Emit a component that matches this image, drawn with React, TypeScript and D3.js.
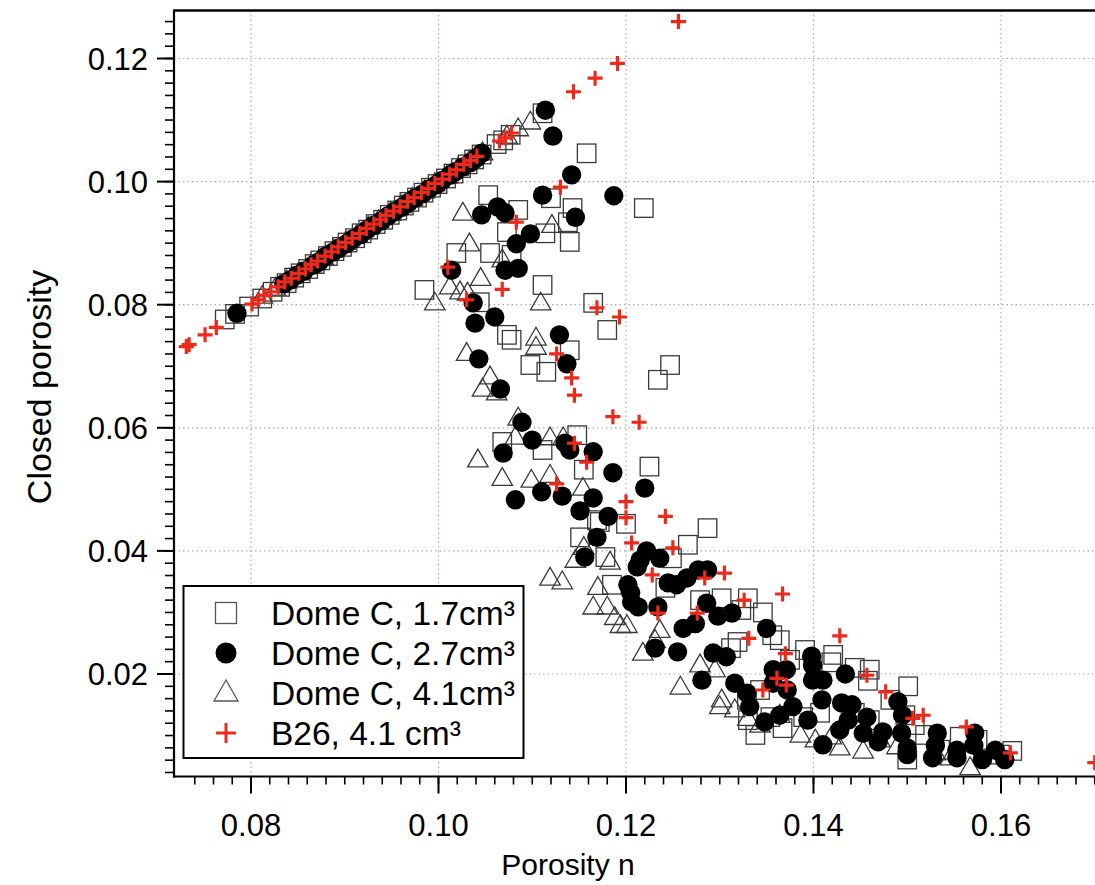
import React from "react";
import * as d3 from "d3";

// ---------- DATA (x = porosity n, y = closed porosity) ----------
const squaresLine: [number, number][] = [
  [0.0772, 0.0776], [0.0783, 0.0785], [0.0798, 0.0797], [0.0812, 0.081], [0.0823, 0.0821], [0.0831, 0.0829],
  [0.0838, 0.0835], [0.0846, 0.0844], [0.0853, 0.0851], [0.0861, 0.0858], [0.0868, 0.0866], [0.0874, 0.0872],
  [0.0882, 0.0879], [0.0889, 0.0887], [0.0897, 0.0894], [0.0903, 0.0901], [0.0911, 0.0908], [0.0918, 0.0916],
  [0.0925, 0.0922], [0.0933, 0.0931], [0.0941, 0.0938], [0.0948, 0.0946], [0.0956, 0.0953], [0.0963, 0.0961],
  [0.0969, 0.0967], [0.0977, 0.0974], [0.0984, 0.0982], [0.0992, 0.099], [0.0999, 0.0996], [0.1008, 0.1005],
  [0.1016, 0.1013], [0.1024, 0.1022], [0.1031, 0.1028], [0.1038, 0.1036], [0.1046, 0.1044], [0.1062, 0.1061],
  [0.1069, 0.1067], [0.1077, 0.1076], [0.1111, 0.1111],
];
const squaresScatter: [number, number][] = [
  [0.1158, 0.1046], [0.112, 0.0973], [0.1219, 0.0957], [0.1053, 0.0978], [0.1085, 0.0954], [0.1143, 0.0957],
  [0.1138, 0.0934], [0.1114, 0.0916], [0.114, 0.0902], [0.1073, 0.0918], [0.1019, 0.0884], [0.1055, 0.0884],
  [0.1078, 0.0881], [0.1111, 0.0832], [0.0985, 0.0824], [0.1044, 0.0804], [0.1165, 0.0803], [0.1073, 0.0751],
  [0.1078, 0.0743], [0.114, 0.0726], [0.1098, 0.0702], [0.1115, 0.0691], [0.118, 0.0759], [0.1247, 0.0702],
  [0.1234, 0.0678], [0.1068, 0.0577], [0.1111, 0.0564], [0.1148, 0.0588], [0.1155, 0.0532], [0.1225, 0.0537],
  [0.1169, 0.045], [0.12, 0.0444], [0.1287, 0.0437], [0.1151, 0.0422], [0.1172, 0.0447], [0.1266, 0.041],
  [0.1178, 0.039], [0.1249, 0.0388], [0.1185, 0.0345], [0.1242, 0.034], [0.1302, 0.0323], [0.1279, 0.032],
  [0.1323, 0.0304], [0.133, 0.0323], [0.1346, 0.03], [0.1319, 0.0252], [0.1356, 0.0263], [0.1364, 0.0255],
  [0.1391, 0.0239], [0.1375, 0.0223], [0.1421, 0.0231], [0.1444, 0.021], [0.146, 0.0207], [0.1501, 0.018],
  [0.1482, 0.0158], [0.1444, 0.0137], [0.146, 0.0125], [0.1498, 0.0133], [0.1508, 0.0117], [0.1519, 0.0101],
  [0.1556, 0.0098], [0.1575, 0.0093], [0.1612, 0.0075], [0.1599, 0.0069], [0.15, 0.0061], [0.1535, 0.0077],
  [0.1343, 0.0174], [0.1329, 0.0158], [0.1354, 0.013], [0.1389, 0.013], [0.1407, 0.0137], [0.133, 0.0125],
  [0.1312, 0.0242], [0.1419, 0.0219], [0.1458, 0.0189], [0.1338, 0.0101], [0.1367, 0.0112],
];
const circlesLine: [number, number][] = [
  [0.0785, 0.0786], [0.0835, 0.0834], [0.0842, 0.084], [0.0849, 0.0848], [0.0857, 0.0855], [0.0866, 0.0864],
  [0.0873, 0.087], [0.0879, 0.0878], [0.0887, 0.0885], [0.0894, 0.0892], [0.0902, 0.0899], [0.0909, 0.0907],
  [0.0917, 0.0914], [0.0924, 0.0922], [0.0931, 0.0929], [0.0939, 0.0936], [0.0946, 0.0944], [0.0953, 0.0951],
  [0.0961, 0.0958], [0.0968, 0.0966], [0.0975, 0.0973], [0.0983, 0.098], [0.099, 0.0988], [0.0998, 0.0995],
  [0.1004, 0.1002], [0.1012, 0.101], [0.1018, 0.1016], [0.1026, 0.1024], [0.1034, 0.1031], [0.1041, 0.1039],
  [0.1046, 0.1046], [0.1114, 0.1116],
];
const circlesScatter: [number, number][] = [
  [0.1122, 0.1074], [0.1142, 0.1011], [0.1111, 0.0978], [0.1187, 0.0977], [0.1046, 0.0946], [0.1063, 0.0959],
  [0.1071, 0.0949], [0.1146, 0.0942], [0.1098, 0.0915], [0.1083, 0.0899], [0.1071, 0.0856], [0.1085, 0.0859],
  [0.1014, 0.0856], [0.1037, 0.0803], [0.106, 0.078], [0.1039, 0.077], [0.1129, 0.0751], [0.1137, 0.0704],
  [0.1043, 0.0712], [0.1066, 0.0663], [0.1089, 0.0609], [0.11, 0.058], [0.1069, 0.0559], [0.1135, 0.0575],
  [0.114, 0.0564], [0.1165, 0.0561], [0.1186, 0.0527], [0.122, 0.0502], [0.111, 0.0496], [0.1132, 0.0489],
  [0.1082, 0.0483], [0.1165, 0.0486], [0.1151, 0.0465], [0.1181, 0.0456], [0.1169, 0.0422], [0.1156, 0.039],
  [0.1222, 0.04], [0.1236, 0.0388], [0.1215, 0.0385], [0.1212, 0.0374], [0.1277, 0.0369], [0.1287, 0.0369],
  [0.1265, 0.0356], [0.1254, 0.0345], [0.1245, 0.0348], [0.1202, 0.0345], [0.1205, 0.0332], [0.1206, 0.0317],
  [0.1213, 0.0309], [0.1286, 0.0315], [0.1298, 0.0294], [0.1313, 0.0299], [0.1234, 0.0309], [0.1261, 0.0274],
  [0.1274, 0.0282], [0.135, 0.0274], [0.1231, 0.0242], [0.1255, 0.0236], [0.1293, 0.0234], [0.1307, 0.0228],
  [0.1281, 0.019], [0.1316, 0.0185], [0.1329, 0.0169], [0.1357, 0.0207], [0.1371, 0.0207], [0.1357, 0.0185],
  [0.1372, 0.0174], [0.1332, 0.0147], [0.1378, 0.0147], [0.1398, 0.0229], [0.1434, 0.02], [0.1399, 0.019],
  [0.141, 0.019], [0.149, 0.0155], [0.1495, 0.0133], [0.1409, 0.0158], [0.143, 0.0153], [0.1441, 0.015],
  [0.1457, 0.013], [0.1437, 0.0125], [0.1428, 0.0109], [0.1453, 0.0104], [0.1469, 0.009], [0.1474, 0.0106],
  [0.1494, 0.0104], [0.15, 0.008], [0.15, 0.0069], [0.1532, 0.0104], [0.1527, 0.0064], [0.1553, 0.0076],
  [0.1553, 0.0064], [0.1572, 0.0104], [0.158, 0.0061], [0.1594, 0.0076], [0.1604, 0.0061], [0.1348, 0.0122],
  [0.1364, 0.0133], [0.1394, 0.0125], [0.141, 0.0085], [0.1399, 0.0214], [0.153, 0.0084], [0.1571, 0.0084],
];
const trianglesLine: [number, number][] = [
  [0.0812, 0.0814], [0.0826, 0.0827], [0.0838, 0.0839], [0.0851, 0.0852], [0.0864, 0.0865], [0.0877, 0.0877],
  [0.0888, 0.0889], [0.0901, 0.0902], [0.0913, 0.0913], [0.0925, 0.0926], [0.0936, 0.0937], [0.0949, 0.0949],
  [0.096, 0.0961], [0.0972, 0.0973], [0.0985, 0.0985], [0.0996, 0.0997], [0.1009, 0.1009], [0.1021, 0.1022],
  [0.1033, 0.1034], [0.1047, 0.1047], [0.1073, 0.1074], [0.1085, 0.1086], [0.1098, 0.1097],
];
const trianglesScatter: [number, number][] = [
  [0.1026, 0.0949], [0.1121, 0.0929], [0.1033, 0.0899], [0.1068, 0.0873], [0.1045, 0.0843], [0.1012, 0.0829],
  [0.1023, 0.0821], [0.1031, 0.0819], [0.0996, 0.0803], [0.1109, 0.0803], [0.1104, 0.0746], [0.1104, 0.0731],
  [0.103, 0.0721], [0.1055, 0.0683], [0.1047, 0.0663], [0.1062, 0.0657], [0.1085, 0.0616], [0.1082, 0.0585],
  [0.1119, 0.0584], [0.1133, 0.0584], [0.1042, 0.0548], [0.1068, 0.0518], [0.1099, 0.0515], [0.1119, 0.0523],
  [0.1154, 0.0502], [0.1119, 0.0356], [0.1132, 0.035], [0.1155, 0.0406], [0.117, 0.0341], [0.1165, 0.0309],
  [0.118, 0.0309], [0.1188, 0.0292], [0.1194, 0.0279], [0.1201, 0.0279], [0.1236, 0.0271], [0.1218, 0.0234],
  [0.1258, 0.0179], [0.1302, 0.0158], [0.1146, 0.0385], [0.1183, 0.0382], [0.1279, 0.0215], [0.1295, 0.0207],
  [0.1316, 0.0142], [0.133, 0.0128], [0.1343, 0.0117], [0.1364, 0.0133], [0.1386, 0.0101], [0.1402, 0.0093],
  [0.1419, 0.0098], [0.1428, 0.008], [0.1453, 0.0075], [0.1471, 0.0093], [0.1489, 0.0082], [0.153, 0.0072],
  [0.1567, 0.0048], [0.1546, 0.0064], [0.1231, 0.0255], [0.13, 0.0147],
];
const plusLine: [number, number][] = [
  [0.0731, 0.0732], [0.0734, 0.0735], [0.0751, 0.0751], [0.0763, 0.0763], [0.0801, 0.0801], [0.0808, 0.0808],
  [0.0814, 0.0815], [0.0821, 0.0821], [0.0829, 0.0829], [0.0836, 0.0837], [0.0843, 0.0843], [0.0851, 0.0851],
  [0.0858, 0.0858], [0.0864, 0.0865], [0.0871, 0.0871], [0.0879, 0.0879], [0.0886, 0.0886], [0.0893, 0.0894],
  [0.0901, 0.0901], [0.0908, 0.0908], [0.0916, 0.0916], [0.0923, 0.0924], [0.0931, 0.0931], [0.0938, 0.0938],
  [0.0944, 0.0945], [0.0952, 0.0952], [0.0959, 0.0959], [0.0967, 0.0968], [0.0974, 0.0974], [0.0982, 0.0982],
  [0.0989, 0.0989], [0.0996, 0.0997], [0.1004, 0.1004], [0.1012, 0.1012], [0.1019, 0.1019], [0.1027, 0.1028],
  [0.1034, 0.1034], [0.1041, 0.1041], [0.1065, 0.1066], [0.1071, 0.1071], [0.1078, 0.1079], [0.1144, 0.1146],
  [0.1167, 0.1168], [0.1191, 0.1192], [0.1256, 0.126],
];
const plusScatter: [number, number][] = [
  [0.113, 0.0991], [0.1083, 0.0934], [0.101, 0.0861], [0.1068, 0.0825], [0.103, 0.0808], [0.1169, 0.0795],
  [0.1193, 0.078], [0.1126, 0.072], [0.1142, 0.0681], [0.1145, 0.0653], [0.1186, 0.0618], [0.1214, 0.0609],
  [0.1145, 0.0575], [0.1158, 0.0544], [0.1126, 0.0509], [0.12, 0.048], [0.12, 0.0454], [0.1242, 0.0456],
  [0.1206, 0.0413], [0.125, 0.0405], [0.1228, 0.0361], [0.1284, 0.0356], [0.1305, 0.0364], [0.1326, 0.032],
  [0.1367, 0.033], [0.1234, 0.0299], [0.1276, 0.0299], [0.1331, 0.0258], [0.1428, 0.0262], [0.137, 0.0233],
  [0.1361, 0.0193], [0.1371, 0.0182], [0.1346, 0.0174], [0.1457, 0.0198], [0.1477, 0.0171], [0.1506, 0.0128],
  [0.1517, 0.0133], [0.1563, 0.0114], [0.161, 0.0072], [0.17, 0.0056],
];

const xTickValues = [0.08, 0.1, 0.12, 0.14, 0.16];
const yTickValues = [0.02, 0.04, 0.06, 0.08, 0.1, 0.12];
const legendLabels = ["Dome C, 1.7cm³", "Dome C, 2.7cm³", "Dome C, 4.1cm³", "B26, 4.1 cm³"];
const xTitle = "Porosity n";
const yTitle = "Closed porosity";

// ---------- LAYOUT ----------
const W = 1095;
const H = 885;
const L = 174;
const R = 1110;
const T = 10.5;
const B = 776.5;
const RED = "#ec2a1c";
const FONT = "'Liberation Sans', Arial, Helvetica, sans-serif";

const x = d3.scaleLinear().domain([0.08, 0.16]).range([251, 1001]);
const y = d3.scaleLinear().domain([0.02, 0.12]).range([674, 58.5]);

const xMinor = d3.range(0.072, 0.1721, 0.002).filter((v) => x(v) > L + 3 && x(v) < W + 5);
const yMinor = d3.range(0.004, 0.1281, 0.002).filter((v) => y(v) > T + 3 && y(v) < B - 3);

const SQ = 18.5;
const CR = 9.7;
const TRI = 20.5;
const PL = 7.5;

const Square = ({ cx, cy }: { cx: number; cy: number }) => (
  <rect x={cx - SQ / 2} y={cy - SQ / 2} width={SQ} height={SQ} fill="none" stroke="#3a3a3a" strokeWidth={1.3} />
);
const Circle = ({ cx, cy }: { cx: number; cy: number }) => <circle cx={cx} cy={cy} r={CR} fill="#000" />;
const triPath = (cx: number, cy: number) => {
  const h = (TRI * Math.sqrt(3)) / 2;
  return `M${cx},${cy - h * 0.6}L${cx + TRI / 2},${cy + h * 0.4}L${cx - TRI / 2},${cy + h * 0.4}Z`;
};
const Triangle = ({ cx, cy }: { cx: number; cy: number }) => (
  <path d={triPath(cx, cy)} fill="none" stroke="#3a3a3a" strokeWidth={1.3} />
);
const Plus = ({ cx, cy }: { cx: number; cy: number }) => (
  <path d={`M${cx - PL},${cy}H${cx + PL}M${cx},${cy - PL}V${cy + PL}`} stroke={RED} strokeWidth={3.2} fill="none" />
);

const SText = ({
  tx, ty, size, sx = 1, anchor = "start", children, rotate = 0,
}: { tx: number; ty: number; size: number; sx?: number; anchor?: string; children: React.ReactNode; rotate?: number }) => (
  <text
    transform={`translate(${tx},${ty}) rotate(${rotate}) scale(${sx},1)`}
    fontSize={size}
    fontFamily={FONT}
    textAnchor={anchor as any}
    fill="#000"
  >
    {children}
  </text>
);

export default function App() {
  const squares = [...squaresLine, ...squaresScatter];
  const circles = [...circlesLine, ...circlesScatter];
  const triangles = [...trianglesLine, ...trianglesScatter];
  const pluses = [...plusLine, ...plusScatter];
  const legY = [613, 653, 693, 733];
  return (
    <svg width={W} height={H} style={{ position: "absolute", left: 0, top: 0, background: "#fff" }}>
      <defs>
        <clipPath id="plot">
          <rect x={L} y={T} width={R - L} height={B - T} />
        </clipPath>
      </defs>
      <rect x={0} y={0} width={W} height={H} fill="#fff" />
      {/* grid */}
      <g stroke="#a6a9cc" strokeWidth={1.2} strokeDasharray="1.5,3">
        {xTickValues.map((v) => (
          <line key={"gx" + v} x1={x(v)} x2={x(v)} y1={T} y2={B} />
        ))}
        {yTickValues.map((v) => (
          <line key={"gy" + v} x1={L} x2={R} y1={y(v)} y2={y(v)} />
        ))}
      </g>
      {/* markers */}
      <g clipPath="url(#plot)">
        {squares.map((d, i) => (
          <Square key={"s" + i} cx={x(d[0])} cy={y(d[1])} />
        ))}
        {triangles.map((d, i) => (
          <Triangle key={"t" + i} cx={x(d[0])} cy={y(d[1])} />
        ))}
        {circles.map((d, i) => (
          <Circle key={"c" + i} cx={x(d[0])} cy={y(d[1])} />
        ))}
        {pluses.map((d, i) => (
          <Plus key={"p" + i} cx={x(d[0])} cy={y(d[1])} />
        ))}
      </g>
      {/* frame */}
      <g stroke="#000" fill="none">
        <line x1={L} x2={R} y1={T} y2={T} strokeWidth={2.5} />
        <line x1={L} x2={L} y1={T - 1} y2={B + 1} strokeWidth={2.2} />
        <line x1={L - 1} x2={R} y1={B} y2={B} strokeWidth={2.2} />
        {xTickValues.map((v) => (
          <line key={"xt" + v} x1={x(v)} x2={x(v)} y1={B} y2={B + 17} strokeWidth={2} />
        ))}
        {xMinor.map((v, i) => (
          <line key={"xm" + i} x1={x(v)} x2={x(v)} y1={B} y2={B + 8} strokeWidth={1.6} />
        ))}
        {yTickValues.map((v) => (
          <line key={"yt" + v} x1={L - 17} x2={L} y1={y(v)} y2={y(v)} strokeWidth={2} />
        ))}
        {yMinor.map((v, i) => (
          <line key={"ym" + i} x1={L - 9} x2={L} y1={y(v)} y2={y(v)} strokeWidth={1.6} />
        ))}
      </g>
      {/* tick labels */}
      {xTickValues.map((v) => (
        <SText key={"xl" + v} tx={x(v)} ty={836} size={31} anchor="middle">
          {d3.format(".2f")(v)}
        </SText>
      ))}
      {yTickValues.map((v) => (
        <SText key={"yl" + v} tx={148} ty={y(v) + 11} size={31} anchor="end">
          {d3.format(".2f")(v)}
        </SText>
      ))}
      <SText tx={568} ty={875} size={30} anchor="middle">
        {xTitle}
      </SText>
      <SText tx={51} ty={387} size={34} sx={1} anchor="middle" rotate={-90}>
        {yTitle}
      </SText>
      {/* legend */}
      <rect x={183.5} y={586} width={340} height={172} fill="#fff" stroke="#000" strokeWidth={2} />
      <rect x={226 - 10.5} y={legY[0] - 10.5} width={21} height={21} fill="none" stroke="#555" strokeWidth={1.3} />
      <circle cx={226} cy={legY[1]} r={10.5} fill="#000" />
      <path d={`M226,${legY[2] - 13}L238,${legY[2] + 8}L214,${legY[2] + 8}Z`} fill="none" stroke="#555" strokeWidth={1.3} />
      <path d={`M216,${legY[3]}H236M226,${legY[3] - 10}V${legY[3] + 10}`} stroke={RED} strokeWidth={3} />
      {legendLabels.map((t, i) => (
        <SText key={"lg" + i} tx={271} ty={legY[i] + 12} size={33.5} anchor="start">
          {t}
        </SText>
      ))}
    </svg>
  );
}
